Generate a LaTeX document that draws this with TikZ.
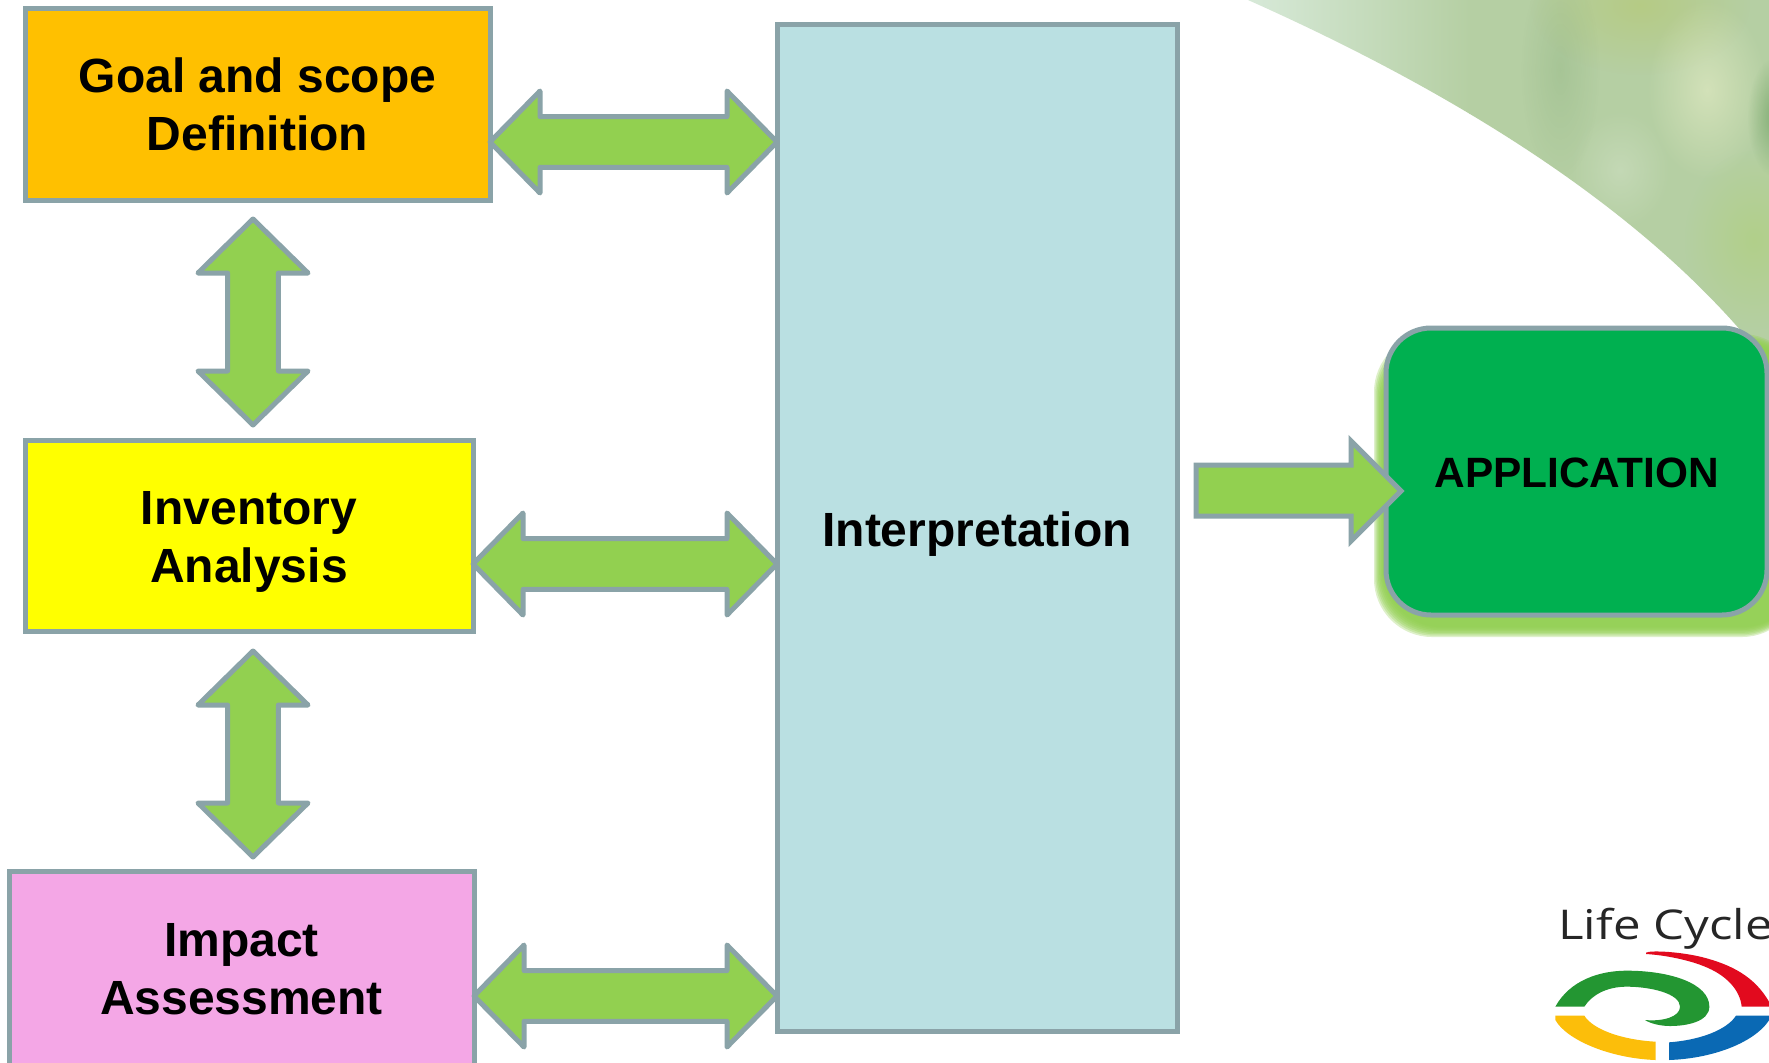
\documentclass[tikz,border=0pt]{standalone}
\usepackage{fontspec}
\setmainfont{Liberation Sans}
\newfontfamily\logofont{Open Sans}
\usetikzlibrary{calc,fadings}
\definecolor{edgegray}{HTML}{8AA3A8}
\definecolor{arrowgreen}{HTML}{92D050}
\definecolor{goalorange}{HTML}{FFC000}
\definecolor{invyellow}{HTML}{FFFF00}
\definecolor{impactpink}{HTML}{F4A7E6}
\definecolor{interpblue}{HTML}{BAE0E2}
\definecolor{appgreen}{HTML}{00B050}
\definecolor{leafbase}{HTML}{B5CFA3}
\definecolor{leafpale}{HTML}{D8EADA}
\tikzset{
  stagebox/.style={draw=edgegray,line width=2.5pt,outer sep=0pt,inner sep=0pt,align=center,
    font=\fontsize{24}{29}\selectfont\bfseries,text=black},
  arrowshape/.style={draw=edgegray,fill=arrowgreen,line width=2.5pt,line join=round},
  blob/.style={path fading=fuzzyblob},
}
\tikzfading[name=fuzzyblob,inner color=transparent!0,outer color=transparent!100]
\newcommand{\twolines}[3]{\raisebox{#1}[0pt][0pt]{\begin{tabular}[c]{@{}c@{}}#2\\#3\end{tabular}}}
% double arrow: head half width, head length, then the two named end points
\newcommand{\dblarrow}[4]{%
  \draw[arrowshape] (#3)
   -- ($(#3)!#2!(#4)!#1!90:(#4)$)
   -- ($(#3)!#2!(#4)!12.7pt!90:(#4)$)
   -- ($(#4)!#2!(#3)!12.7pt!-90:(#3)$)
   -- ($(#4)!#2!(#3)!#1!-90:(#3)$)
   -- (#4)
   -- ($(#4)!#2!(#3)!#1!90:(#3)$)
   -- ($(#4)!#2!(#3)!12.7pt!90:(#3)$)
   -- ($(#3)!#2!(#4)!12.7pt!-90:(#4)$)
   -- ($(#3)!#2!(#4)!#1!-90:(#4)$)
   -- cycle;}
\begin{document}
\begin{tikzpicture}[x=0.5pt,y=-0.5pt]
\clip (0,0) rectangle (1769,1062);
\fill[white] (0,0) rectangle (1769,1062);
% leaf backdrop
\begin{scope}
  \clip (1248,0) .. controls (1450,90) and (1650,210) .. (1769,365) -- (1769,0) -- cycle;
  \shade[left color=leafpale,right color=leafbase]
     (1240,-5) rectangle (1470,380);
  \fill[leafbase] (1469,-5) rectangle (1775,380);
  \fill[blob,color=leafbase!70!yellow!90!black,opacity=.5] (1640,5) ellipse (110 and 70);
  \fill[blob,color=yellow!15!white,opacity=.4] (1707,90) ellipse (60 and 90);
  \fill[blob,color=green!35!black,opacity=.28] (1775,117) ellipse (28 and 60);
  \fill[blob,color=white,opacity=.2] (1620,170) ellipse (50 and 60);
  \fill[blob,color=yellow!60!green!60!leafbase,opacity=.35] (1754,240) ellipse (70 and 90);
  \fill[blob,color=green!30!black,opacity=.08] (1560,70) ellipse (40 and 110);
\end{scope}
% application glow
\foreach \i in {0,1,...,7}
  \fill[arrowgreen,opacity=.3,rounded corners=29pt]
    ({1374+\i*1.3},{334+\i*1.5}) rectangle (1800,{637-\i*1.4});
% nodes
\node[stagebox,fill=goalorange,minimum width=232.5pt,minimum height=96pt] (goal) at (257.5,104) {\twolines{-9.4pt}{Goal and scope}{Definition}};
\node[stagebox,fill=invyellow,minimum width=224pt,minimum height=95.5pt] (inventory) at (249,535.5) {\twolines{-9.65pt}{Inventory}{Analysis}};
\node[stagebox,fill=impactpink,minimum width=232.5pt,minimum height=99pt] (impact) at (241.5,970) {\twolines{-8.35pt}{Impact}{Assessment}};
\node[stagebox,fill=interpblue,minimum width=200pt,minimum height=503.5pt] (interp) at (977,527.5) {\raisebox{-9.7pt}[0pt][0pt]{Interpretation}};
\node[stagebox,fill=appgreen,minimum width=190.5pt,minimum height=143.5pt,rounded corners=22.5pt,
      font=\fontsize{21.2}{25}\selectfont\bfseries] (app) at (1576.5,471.5) {\raisebox{-8.2pt}[0pt][0pt]{APPLICATION}};
% connectors
\coordinate (a1l) at (goal.east |- 0,142);       \coordinate (a1r) at (interp.west |- 0,142);
\coordinate (a2l) at (inventory.east |- 0,564);  \coordinate (a2r) at (interp.west |- 0,564);
\coordinate (a3l) at (impact.east |- 0,996);     \coordinate (a3r) at (interp.west |- 0,996);
\coordinate (v1t) at (253,219); \coordinate (v1b) at (253,425);
\coordinate (v2t) at (253,651); \coordinate (v2b) at (253,857);
\dblarrow{25.5pt}{25pt}{a1l}{a1r}
\dblarrow{25.5pt}{25pt}{a2l}{a2r}
\dblarrow{25.5pt}{25pt}{a3l}{a3r}
\dblarrow{27.5pt}{27pt}{v1t}{v1b}
\dblarrow{27.5pt}{27pt}{v2t}{v2b}
% single arrow to application
\coordinate (s0) at (1196,491);
\draw[draw=edgegray,fill=arrowgreen,line width=2.5pt,miter limit=10]
  (s0 |- 0,465) -- (1351,465) -- (1351,441) -- (1401,491) -- (1351,541) -- (1351,516) -- (s0 |- 0,516) -- cycle;
% logo
\node[anchor=base west,inner sep=0pt,font=\logofont\fontsize{20.5}{24}\selectfont,text=black!85] (logotext) at (1558,939) {\scalebox{1.2}[1]{Life Cycle}};
\begin{scope}[shift={(1450,880)},x=0.16667pt,y=-0.16667pt]
  \fill[color={rgb,255:red,35;green,150;blue,50}]
    (316,380) .. controls (360,300) and (450,272) .. (530,272)
    .. controls (660,272) and (778,310) .. (778,380)
    .. controls (778,425) and (710,438) .. (660,438)
    .. controls (630,438) and (600,430) .. (585,420)
    .. controls (640,425) and (690,410) .. (690,380)
    .. controls (690,340) and (600,320) .. (530,320)
    .. controls (470,320) and (425,345) .. (403,380) -- cycle;
  \fill[color={rgb,255:red,226;green,10;blue,30}]
    (588,218) .. controls (600,210) and (700,215) .. (770,235)
    .. controls (860,260) and (925,300) .. (965,380)
    -- (875,380) .. controls (870,330) and (830,285) .. (760,258)
    .. controls (710,238) and (640,225) .. (588,222) -- cycle;
  \fill[color={rgb,255:red,10;green,105;blue,180}]
    (657,487) .. controls (750,480) and (830,450) .. (858,407)
    -- (965,407) .. controls (930,480) and (800,535) .. (657,540) -- cycle;
  \fill[color={rgb,255:red,252;green,190;blue,10}]
    (316,407) -- (403,407) .. controls (430,450) and (520,480) .. (617,485)
    -- (617,540) .. controls (480,535) and (350,480) .. (316,420) -- cycle;
\end{scope}
\end{tikzpicture}
\end{document}
